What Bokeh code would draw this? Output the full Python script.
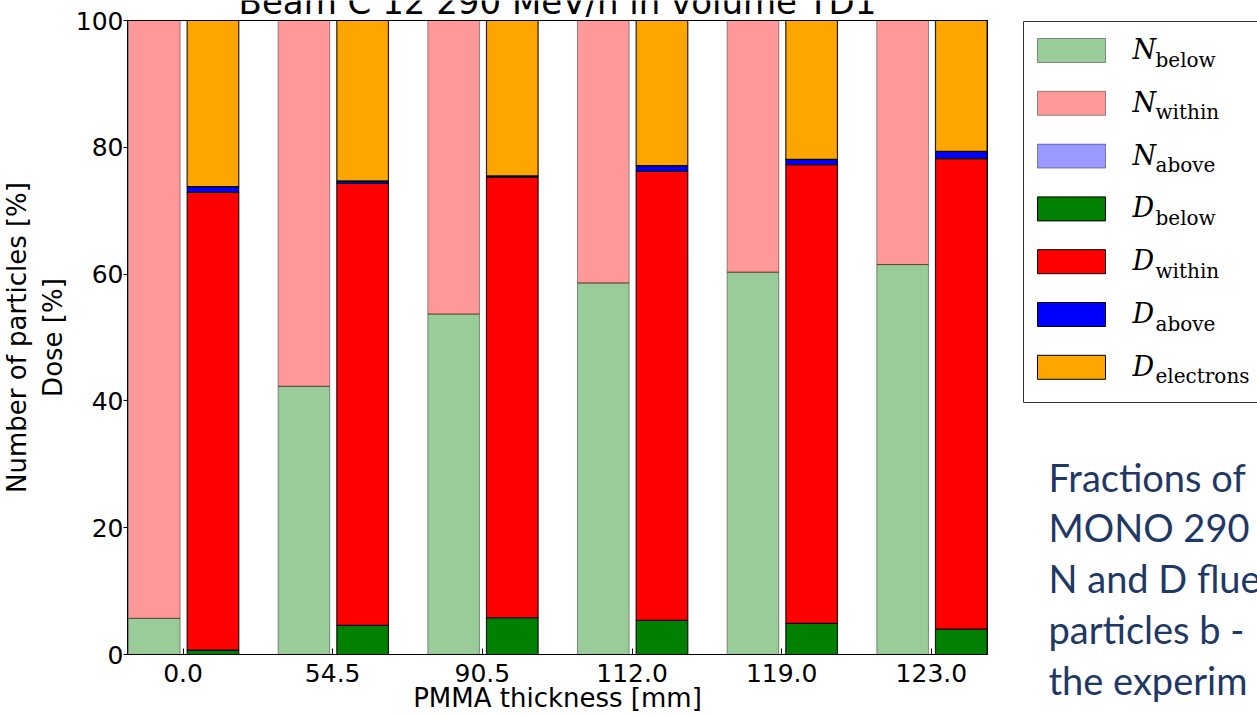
from bokeh.plotting import figure
from bokeh.models import ColumnDataSource, FixedTicker, Label, Range1d, LinearAxis
from bokeh.transform import dodge
from bokeh.core.properties import value
from bokeh.embed import file_html
from bokeh.resources import INLINE

# ---------------- data ----------------
thickness_labels = ["0.0", "54.5", "90.5", "112.0", "119.0", "123.0"]

N_below = [5.7, 42.3, 53.7, 58.6, 60.3, 61.5]
N_within = [94.3, 57.7, 46.3, 41.4, 39.7, 38.5]
N_above = [0.0, 0.0, 0.0, 0.0, 0.0, 0.0]

D_below = [0.7, 4.6, 5.8, 5.4, 4.9, 4.0]
D_within = [72.2, 69.7, 69.5, 70.8, 72.35, 74.2]
D_above = [0.9, 0.4, 0.2, 0.9, 0.85, 1.15]
D_electrons = [26.2, 25.3, 24.5, 22.9, 21.9, 20.65]

y_ticks = [0, 20, 40, 60, 80, 100]

title_text = "Beam C 12 290 MeV/n in volume TD1"
x_title = "PMMA thickness [mm]"
y_title = "Number of particles [%]\nDose [%]"

legend_main = ["N", "N", "N", "D", "D", "D", "D"]
legend_sub = ["below", "within", "above", "below", "within", "above", "electrons"]
legend_colors = ["green", "red", "blue", "green", "red", "blue", "orange"]
legend_alpha = [0.4, 0.4, 0.4, 1.0, 1.0, 1.0, 1.0]

side_text = ["Fractions of", "MONO 290 M", "N and D flue", "particles b -", "the experim"]

# ---------------- layout (pixels) ----------------
W, H = 1257, 716
AX_L, AX_R, AX_T, AX_B = 127, 987, 20, 654      # axes box in canvas pixels
X0, X1 = -0.371, 5.375                           # data limits of the axes box
Y0, Y1 = 0, 100
ppx = (AX_R - AX_L) / (X1 - X0)
ppy = (AX_B - AX_T) / (Y1 - Y0)

pos = list(range(len(thickness_labels)))
source = ColumnDataSource(data=dict(
    pos=pos,
    N_below=N_below, N_within=N_within, N_above=N_above,
    D_below=D_below, D_within=D_within, D_above=D_above, D_electrons=D_electrons,
))

FONT = "DejaVu Sans"

p = figure(width=W, height=H, output_backend="svg", toolbar_location=None,
           x_range=Range1d(X0 - AX_L / ppx, X1 + (W - AX_R) / ppx),
           y_range=Range1d(Y0 - (H - AX_B) / ppy, Y1 + AX_T / ppy),
           x_axis_location=None, y_axis_location=None, min_border=0)
p.extra_x_ranges = {"px": Range1d(0, W)}
p.extra_y_ranges = {"px": Range1d(H, 0)}
p.xgrid.visible = False
p.ygrid.visible = False
p.outline_line_color = None
p.background_fill_color = "white"
p.border_fill_color = "white"

p.vbar_stack(["N_below", "N_within", "N_above"], x=dodge("pos", -0.192),
             width=0.345, source=source,
             fill_color=["green", "red", "blue"], fill_alpha=0.4,
             line_color="black", line_alpha=0.4, line_width=1)
p.vbar_stack(["D_below", "D_within", "D_above", "D_electrons"], x=dodge("pos", 0.2),
             width=0.345, source=source,
             fill_color=["green", "red", "blue", "orange"], fill_alpha=1.0,
             line_color="black", line_alpha=0.85, line_width=1.2)

# axes box
p.quad(left=[X0], right=[X1], bottom=[Y0], top=[Y1], fill_color=None,
       line_color="black", line_width=1)

xa = LinearAxis(fixed_location=Y0, bounds=(X0, X1), ticker=FixedTicker(ticks=pos),
                major_label_overrides={i: lab for i, lab in zip(pos, thickness_labels)},
                major_tick_in=6, major_tick_out=0, minor_tick_line_color=None,
                major_label_standoff=9,
                major_label_text_font=FONT, major_label_text_font_size="25px",
                major_label_text_color="black",
                axis_label=x_title, axis_label_text_font=FONT, axis_label_text_font_size="26px",
                axis_label_text_font_style="normal", axis_label_text_color="black",
                axis_label_standoff=-2, axis_line_color="black")
p.add_layout(xa, "below")

ya = LinearAxis(fixed_location=X0, bounds=(Y0, Y1), ticker=FixedTicker(ticks=y_ticks),
                major_tick_in=0, major_tick_out=4, minor_tick_line_color=None,
                major_label_standoff=0,
                major_label_text_font=FONT, major_label_text_font_size="25px",
                major_label_text_color="black",
                axis_label=y_title, axis_label_text_font=FONT, axis_label_text_font_size="26px",
                axis_label_text_font_style="normal", axis_label_text_color="black",
                axis_label_standoff=5, axis_line_color="black")
p.add_layout(ya, "left")

p.add_layout(Label(x=(X0 + X1) / 2, y=Y1, y_offset=19,
                   text=title_text, text_align="center", text_baseline="alphabetic",
                   text_font=FONT, text_font_size="34px", text_color="black"))

# ---------------- legend (pixel coordinates) ----------------
n = len(legend_main)
row_y = [50 + 52.8 * i for i in range(n)]
p.quad(left=[1023], right=[1300], top=[21], bottom=[402], fill_color="white",
       line_color="#333333", line_width=1, x_range_name="px", y_range_name="px")
p.rect(x=[1071] * n, y=row_y, width=68, height=24, fill_color=legend_colors,
       fill_alpha=legend_alpha, line_color="black",
       line_alpha=[0.4 if a < 1 else 1.0 for a in legend_alpha],
       x_range_name="px", y_range_name="px")
p.text(x=[1132] * n, y=[yy - 1 for yy in row_y], text=legend_main,
       text_font=value("DejaVu Serif"), text_font_style="italic", text_font_size="27px",
       text_baseline="alphabetic", text_color="black", x_range_name="px", y_range_name="px")
p.text(x=[1155] * n, y=[yy + 9 for yy in row_y], text=legend_sub,
       text_font=value("DejaVu Serif"), text_font_size="20px",
       text_baseline="alphabetic", text_color="black", x_range_name="px", y_range_name="px")

p.text(x=[1048] * len(side_text), y=[476 + 50.8 * i for i in range(len(side_text))],
       text=side_text, text_font=value("Lato"), text_font_size="38px",
       text_baseline="alphabetic", text_color="#1F3864", x_range_name="px", y_range_name="px")

open("out.html", "w").write(file_html(p, INLINE))
